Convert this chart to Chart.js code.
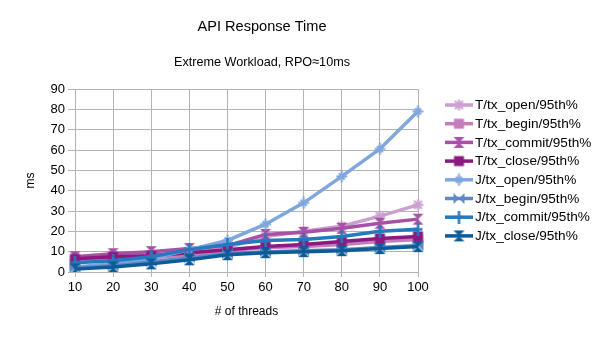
<!DOCTYPE html>
<html>
<head>
<meta charset="utf-8">
<script src="https://cdn.jsdelivr.net/npm/chart.js@4"></script>
<style>
  html, body { margin: 0; padding: 0; background: #fff; }
  canvas { display: block; }
</style>
</head>
<body>
<canvas id="chart" width="604" height="340"></canvas>
<script>
const threads = ["10", "20", "30", "40", "50", "60", "70", "80", "90", "100"];

const tOpen   = [6, 8, 8.5, 10, 12, 17.5, 20, 22.5, 27.5, 33];
const tBegin  = [5.5, 6.5, 7, 8.5, 10.5, 12, 12.5, 13.5, 15, 16];
const tCommit = [7.5, 9, 10, 11.5, 13, 18.5, 19.5, 21.5, 24, 26];
const tClose  = [6.5, 7.5, 8, 9.5, 11, 12.5, 13.5, 15, 16.5, 17.5];
const jOpen   = [2.5, 4, 6.5, 11, 15.5, 23.5, 34, 47, 60.5, 79];
const jBegin  = [2, 3, 5, 7, 9, 10, 10.5, 11, 12, 13];
const jCommit = [4.5, 5.5, 7.5, 11, 13.5, 15.5, 16, 17.5, 20, 21];
const jClose  = [1.5, 2.5, 4, 6, 8.5, 9.5, 10, 10.5, 11.5, 12.5];

const seriesNames = ["T/tx_open/95th%", "T/tx_begin/95th%", "T/tx_commit/95th%", "T/tx_close/95th%",
                     "J/tx_open/95th%", "J/tx_begin/95th%", "J/tx_commit/95th%", "J/tx_close/95th%"];
const seriesData = [tOpen, tBegin, tCommit, tClose, jOpen, jBegin, jCommit, jClose];
const colors = ["#cc9fd1", "#c47cbf", "#a651a6", "#8b1a80", "#7fa7dd", "#5d89c6", "#2479bf", "#0f5b98"];
const shapes = ["star", "rect", "hourglass", "rect", "plusStar", "bowtie", "bar", "hourglass"];

const FONT = "'Liberation Sans', Arial, sans-serif";

// draw a marker into its own small canvas
function makeMarker(shape, color) {
  const s = 13;
  const c = document.createElement("canvas");
  c.width = s; c.height = s;
  const ctx = c.getContext("2d");
  const m = s / 2;
  ctx.fillStyle = color;
  ctx.strokeStyle = color;
  ctx.lineWidth = 2;
  ctx.beginPath();
  if (shape === "rect") {
    ctx.fillRect(1.5, 1.5, s - 3, s - 3);
  } else if (shape === "hourglass") {
    ctx.moveTo(1, 1); ctx.lineTo(s - 1, 1); ctx.lineTo(m, m);
    ctx.lineTo(s - 1, s - 1); ctx.lineTo(1, s - 1); ctx.lineTo(m, m);
    ctx.closePath(); ctx.fill();
  } else if (shape === "bowtie") {
    ctx.moveTo(1, 1); ctx.lineTo(m, m); ctx.lineTo(s - 1, 1);
    ctx.lineTo(s - 1, s - 1); ctx.lineTo(m, m); ctx.lineTo(1, s - 1);
    ctx.closePath(); ctx.fill();
  } else if (shape === "star") {
    ctx.moveTo(m, 1); ctx.lineTo(m, s - 1);
    ctx.moveTo(1, m); ctx.lineTo(s - 1, m);
    ctx.moveTo(2.5, 2.5); ctx.lineTo(s - 2.5, s - 2.5);
    ctx.moveTo(s - 2.5, 2.5); ctx.lineTo(2.5, s - 2.5);
    ctx.stroke();
  } else if (shape === "plusStar") {
    ctx.moveTo(m, 0.5); ctx.lineTo(m, s - 0.5);
    ctx.moveTo(1, m); ctx.lineTo(s - 1, m);
    ctx.moveTo(3.5, 3.5); ctx.lineTo(s - 3.5, s - 3.5);
    ctx.moveTo(s - 3.5, 3.5); ctx.lineTo(3.5, s - 3.5);
    ctx.stroke();
  } else if (shape === "bar") {
    ctx.lineWidth = 2.5;
    ctx.moveTo(m, 0); ctx.lineTo(m, s);
    ctx.moveTo(2, m); ctx.lineTo(s - 2, m);
    ctx.stroke();
  }
  return c;
}

const markers = shapes.map((sh, i) => makeMarker(sh, colors[i]));

// text squeezed a little sideways, the original titles are narrow for their height
function narrowText(ctx, text, x, y, size, squeeze) {
  ctx.save();
  ctx.translate(x, y);
  ctx.scale(squeeze, 1);
  ctx.font = size + "px " + FONT;
  ctx.fillText(text, 0, 0);
  ctx.restore();
}

// titles + legend on the right, line + marker like the original
const decorations = {
  id: "decorations",
  afterDraw(chart) {
    const ctx = chart.ctx;
    ctx.save();
    ctx.fillStyle = "#000";
    ctx.textAlign = "center";
    ctx.textBaseline = "middle";
    narrowText(ctx, "API Response Time", 262, 27, 15.5, 0.94);
    narrowText(ctx, "Extreme Workload, RPO\u224810ms", 262, 62, 13.6, 0.93);

    ctx.textAlign = "left";
    ctx.font = "13.6px " + FONT;
    seriesNames.forEach((name, i) => {
      const y = 105 + i * 18.7;
      ctx.strokeStyle = colors[i];
      ctx.lineWidth = 3.5;
      ctx.beginPath();
      ctx.moveTo(445, y); ctx.lineTo(473, y);
      ctx.stroke();
      ctx.drawImage(markers[i], 459 - markers[i].width / 2, y - markers[i].height / 2);
      ctx.fillStyle = "#000";
      ctx.fillText(name, 475, y + 0.5);
    });
    ctx.restore();
  }
};

Chart.defaults.font.family = FONT;
Chart.defaults.color = "#000";

new Chart(document.getElementById("chart"), {
  type: "line",
  data: {
    labels: threads,
    datasets: seriesNames.map((name, i) => ({
      label: name,
      data: seriesData[i],
      borderColor: colors[i],
      backgroundColor: colors[i],
      borderWidth: 3.5,
      pointStyle: markers[i],
      tension: 0,
      order: 8 - i
    }))
  },
  options: {
    responsive: false,
    animation: false,
    layout: { padding: { left: 0, right: 186, top: 89, bottom: 0 } },
    plugins: {
      legend: { display: false },
      tooltip: { enabled: false },
      title: { display: false }
    },
    scales: {
      x: {
        offset: false,
        afterFit: s => { s.height = 68; },
        title: { display: true, text: "# of threads", font: { size: 12 }, padding: { top: 0, bottom: 21 } },
        grid: { color: "#b3b3b3", tickLength: 5, drawTicks: true },
        border: { color: "#b3b3b3" },
        ticks: { font: { size: 13 }, maxRotation: 0, padding: 3 }
      },
      y: {
        min: 0,
        max: 90,
        afterFit: s => { s.width = 75; },
        title: { display: true, text: "ms", font: { size: 12 }, padding: { top: 23, bottom: 0 } },
        border: { color: "#b3b3b3" },
        grid: {
          color: c => (c.tick && c.tick.value % 10 === 0) ? "#b3b3b3" : "#dddddd",
          tickColor: c => (c.tick && c.tick.value % 10 === 0) ? "#b3b3b3" : "rgba(0,0,0,0)",
          tickLength: 7
        },
        ticks: {
          stepSize: 5,
          font: { size: 13 },
          padding: 3,
          callback: v => (v % 10 === 0 ? v : "")
        }
      }
    }
  },
  plugins: [decorations]
});
</script>
</body>
</html>
